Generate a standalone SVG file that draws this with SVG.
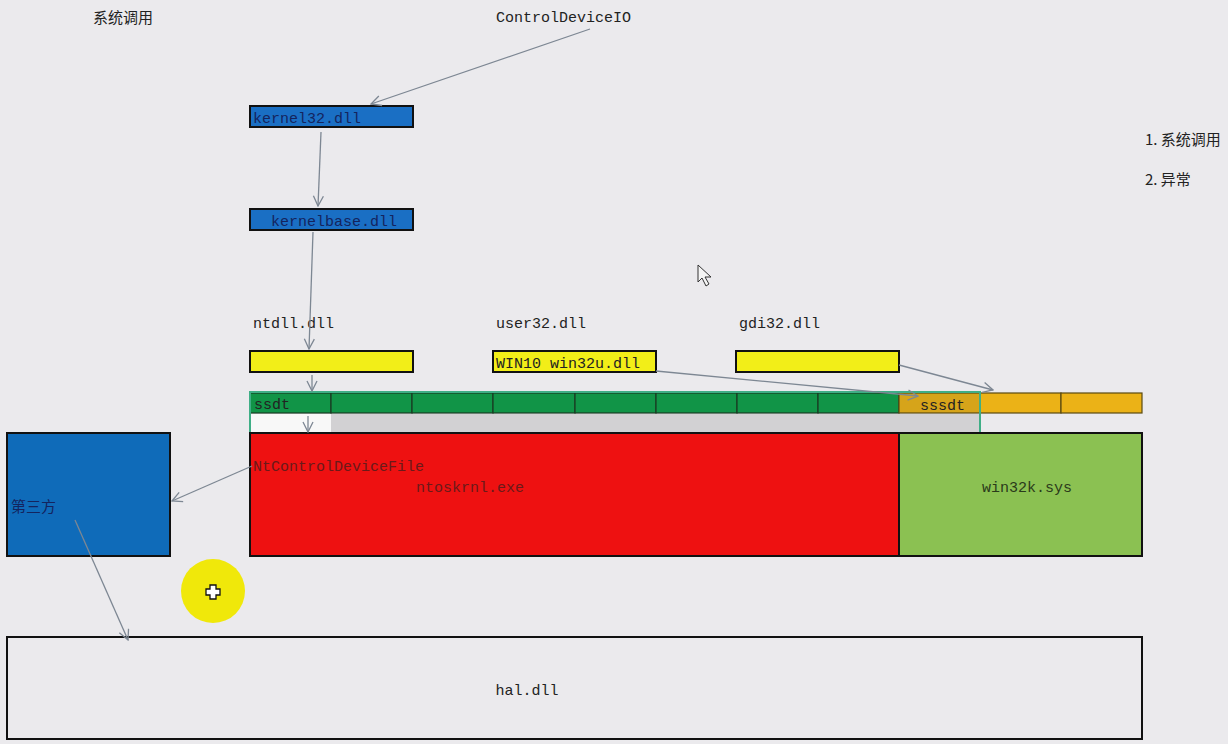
<svg xmlns="http://www.w3.org/2000/svg" width="1228" height="744" viewBox="0 0 1228 744">
<defs>
<style>
.t{font-family:"Liberation Mono","DejaVu Sans Mono",monospace;font-size:15px;fill:#222}
.cn{font-family:"Noto Sans CJK SC","Noto Sans",sans-serif;font-size:15px;fill:#222}
.box{stroke:#111;stroke-width:2}
.cell{stroke:#1a3a22;stroke-width:1.2}
.ln{stroke:#7d8793;stroke-width:1.3;fill:none;marker-end:url(#ah)}
</style>
<marker id="ah" viewBox="0 0 12 12" refX="11" refY="6" markerWidth="12" markerHeight="12" markerUnits="userSpaceOnUse" orient="auto">
<polyline points="1,1 11,6 1,11" fill="none" stroke="#7d8793" stroke-width="1.3"/>
</marker>
</defs>
<rect x="0" y="0" width="1228" height="744" fill="#ebeaed"/>

<g id="title"><text class="cn" x="93" y="23">系统调用</text></g>
<g id="notes">
<text class="cn" x="1145" y="145">1. 系统调用</text>
<text class="cn" x="1145" y="185">2. 异常</text>
</g>
<g id="controldeviceio"><text class="t" x="496" y="22">ControlDeviceIO</text></g>

<g id="kernel32">
<rect class="box" x="250" y="106" width="163" height="21" fill="#1a6fc4"/>
<text class="t" x="253" y="123" style="fill:#14245e">kernel32.dll</text>
</g>
<g id="kernelbase">
<rect class="box" x="250" y="209" width="163" height="21" fill="#1a6fc4"/>
<text class="t" x="271" y="226" style="fill:#14245e">kernelbase.dll</text>
</g>

<g id="ntdll">
<text class="t" x="253" y="328">ntdll.dll</text>
<rect class="box" x="250" y="351" width="163" height="21" fill="#f2ee18"/>
</g>
<g id="user32">
<text class="t" x="496" y="328">user32.dll</text>
<rect class="box" x="493" y="351" width="163" height="21" fill="#f2ee18"/>
<text class="t" x="496" y="368">WIN10 win32u.dll</text>
</g>
<g id="gdi32">
<text class="t" x="739" y="328">gdi32.dll</text>
<rect class="box" x="736" y="351" width="163" height="21" fill="#f2ee18"/>
</g>

<g id="ssdt">
<rect class="cell" x="250" y="393" width="81" height="20" fill="#119447"/>
<rect class="cell" x="331" y="393" width="81" height="20" fill="#119447"/>
<rect class="cell" x="412" y="393" width="81" height="20" fill="#119447"/>
<rect class="cell" x="493" y="393" width="82" height="20" fill="#119447"/>
<rect class="cell" x="575" y="393" width="81" height="20" fill="#119447"/>
<rect class="cell" x="656" y="393" width="81" height="20" fill="#119447"/>
<rect class="cell" x="737" y="393" width="81" height="20" fill="#119447"/>
<rect class="cell" x="818" y="393" width="81" height="20" fill="#119447"/>
<text class="t" x="254" y="409">ssdt</text>
<rect x="251" y="414" width="80" height="19" fill="#f8f8f8"/>
<rect x="331" y="414" width="649" height="19" fill="#d2d1d3"/>
</g>
<g id="sssdt">
<rect class="cell" x="899" y="393" width="81" height="20" fill="#d6a41a" style="stroke:#5a4a10"/>
<rect class="cell" x="980" y="393" width="81" height="20" fill="#ebb217" style="stroke:#5a4a10"/>
<rect class="cell" x="1061" y="393" width="81" height="20" fill="#ebb217" style="stroke:#5a4a10"/>
<text class="t" x="920" y="410">sssdt</text>
</g>
<g id="selection">
<rect x="250" y="392" width="730" height="42" fill="none" stroke="#3fae86" stroke-width="2"/>
</g>

<g id="ntoskrnl">
<rect class="box" x="250" y="433" width="649" height="123" fill="#ee1111"/>
<text class="t" x="253" y="471" style="fill:#6a1a1a">NtControlDeviceFile</text>
<text class="t" x="416" y="492" style="fill:#6a1a1a">ntoskrnl.exe</text>
</g>
<g id="win32k">
<rect class="box" x="899" y="433" width="243" height="123" fill="#8bc152"/>
<text class="t" x="1027" y="492" text-anchor="middle" style="fill:#2a3a1a">win32k.sys</text>
</g>
<g id="thirdparty">
<rect class="box" x="7" y="433" width="163" height="123" fill="#0f6bb9"/>
<text class="cn" x="11" y="512" style="fill:#14245e">第三方</text>
</g>
<g id="hal">
<rect class="box" x="7" y="637" width="1135" height="102" fill="#ebeaed"/>
<text class="t" x="527" y="695" text-anchor="middle">hal.dll</text>
</g>

<g id="connectors">
<line class="ln" x1="590" y1="29" x2="371" y2="104"/>
<line class="ln" x1="321" y1="132" x2="318" y2="206"/>
<line class="ln" x1="313" y1="232" x2="309" y2="349"/>
<line class="ln" x1="312" y1="375" x2="312" y2="391"/>
<line class="ln" x1="308" y1="416" x2="308" y2="432"/>
<line class="ln" x1="656" y1="371" x2="918" y2="396"/>
<line class="ln" x1="899" y1="365" x2="993" y2="390"/>
<line class="ln" x1="252" y1="466" x2="172" y2="501"/>
<line class="ln" x1="75" y1="520" x2="128" y2="640"/>
</g>

<g id="cursor-highlight">
<circle cx="213" cy="591" r="32" fill="#f0e80a"/>
<path d="M210,585h6v4h4v6h-4v4h-6v-4h-4v-6h4z" fill="#fff" stroke="#111" stroke-width="1.3"/>
</g>
<g id="pointer">
<path d="M698,265 L698,282 L702,278 L706,286 L709,284 L705,277 L711,277 Z" fill="#f4f4f4" stroke="#333" stroke-width="1"/>
</g>
</svg>
